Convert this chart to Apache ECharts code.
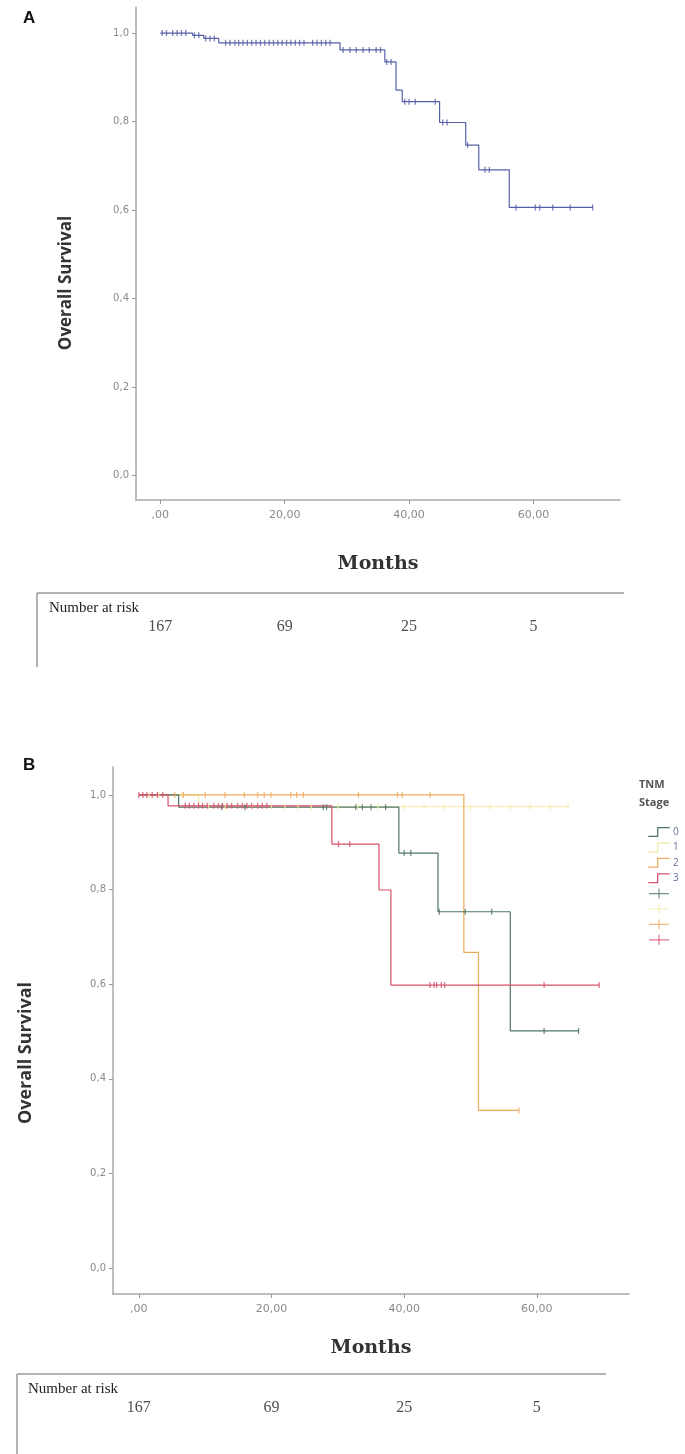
<!DOCTYPE html>
<html><head><meta charset="utf-8">
<script src="https://cdn.jsdelivr.net/npm/echarts@6/dist/echarts.min.js"></script>
<style>html,body{margin:0;padding:0;background:#fff}#c{width:685px;height:1454px}</style>
</head><body><div id="c"></div>
<script>
// ---------- data ----------
const xTicks = [0, 20, 40, 60];
const yTicks = [0, 0.2, 0.4, 0.6, 0.8, 1.0];
const riskTimes = [0, 20, 40, 60];
const riskCounts = [167, 69, 25, 5];

// Panel A: overall Kaplan-Meier steps [month, survival]
const overallSteps = [[0,1.0],[5.2,0.995],[7.0,0.988],[9.4,0.978],[28.9,0.962],[36.1,0.935],[37.9,0.871],[38.9,0.845],[44.9,0.798],[49.1,0.747],[51.2,0.691],[56.1,0.606],[69.5,0.606]];
const overallCensor = [0.3,1.0,2.0,2.7,3.4,4.1,5.5,6.2,7.3,8.0,8.7,10.5,11.2,12.0,12.6,13.3,14.0,14.7,15.4,16.1,16.8,17.5,18.2,18.9,19.6,20.3,21.0,21.7,22.4,23.1,24.5,25.2,25.9,26.6,27.3,29.4,30.5,31.5,32.6,33.6,34.7,35.4,36.4,37.1,39.3,40.0,41.0,44.2,45.4,46.1,49.4,52.2,52.9,57.2,60.3,61.0,63.1,65.9,69.5];

// Panel B: by TNM stage
const stageNames = ['0', '1', '2', '3'];
const stage0Steps = [[0,1.0],[6.0,0.974],[39.2,0.877],[45.1,0.753],[56.0,0.501],[66.3,0.501]];
const stage0Censor = [12.5,16.0,27.8,28.3,32.7,33.7,35.0,37.2,40.0,41.0,45.3,49.2,53.2,61.1,66.3];
const stage1Steps = [[0,1.0],[9.0,0.975],[64.7,0.975]];
const stage1Censor = [1.5,3.0,6.5,10.5,13.0,17.0,20.0,22.0,24.0,26.0,30.0,33.0,36.0,40.0,43.0,46.0,50.0,53.0,56.0,59.0,62.0,64.7];
const stage2Steps = [[0,1.0],[49.0,0.667],[51.2,0.333],[57.3,0.333]];
const stage2Censor = [5.4,6.7,10.0,13.0,15.9,17.9,18.9,19.9,22.9,23.8,24.8,33.1,39.0,39.7,43.9,57.3];
const stage3Steps = [[0,1.0],[4.4,0.977],[29.1,0.896],[36.2,0.799],[38.0,0.598],[69.4,0.598]];
const stage3Censor = [0,0.6,1.2,2.0,2.8,3.6,7.0,7.6,8.3,9.0,9.6,10.3,11.3,12.0,12.6,13.3,14.0,14.9,15.6,16.3,17.0,17.9,18.6,19.3,30.1,31.8,43.9,44.5,44.9,45.6,46.1,61.1,69.4];

// ---------- style ----------
const colA = '#5660a8';
const stageColors = ['#4f7566', '#f1e9a6', '#eeaa5c', '#d8506a'];
const axisCol = '#a9a9a9';
const tickFont = 'DejaVu Sans';

function levelAt(steps, t) {
  let v = steps[0][1];
  for (const p of steps) { if (p[0] <= t) v = p[1]; }
  return v;
}
function censorPts(steps, times) { return times.map(t => [t, levelAt(steps, t)]); }

const xFmt = v => v === 0 ? ',00' : v.toFixed(2).replace('.', ',');
const yFmt = v => v.toFixed(1).replace('.', ',');

function xAxisMain(gi, gap) {
  return {
    gridIndex: gi, type: 'value', min: -3.9, max: 73.9,
    axisLine: { show: true, onZero: false, lineStyle: { color: axisCol, width: 1.5 } },
    axisTick: { show: true, length: 4, customValues: xTicks, lineStyle: { color: '#999' } },
    axisLabel: { customValues: xTicks, formatter: xFmt, margin: 10, color: '#8a8a8a', fontSize: 11, fontFamily: tickFont },
    splitLine: { show: false },
    name: 'Months', nameLocation: 'middle', nameGap: gap,
    nameTextStyle: { fontFamily: 'DejaVu Serif', fontWeight: 'bold', fontSize: 19, color: '#333' }
  };
}
function yAxisMain(gi) {
  return {
    gridIndex: gi, type: 'value', min: -0.055, max: 1.059,
    axisLine: { show: true, onZero: false, lineStyle: { color: axisCol, width: 1.5 } },
    axisTick: { show: true, length: 4, customValues: yTicks, lineStyle: { color: '#999' } },
    axisLabel: { customValues: yTicks, formatter: yFmt, margin: 7, color: '#8a8a8a', fontSize: 10, fontFamily: tickFont },
    splitLine: { show: false }
  };
}
function hiddenX(gi) { return { gridIndex: gi, type: 'value', min: -3.9, max: 73.9, show: false }; }
function hiddenY(gi) { return { gridIndex: gi, type: 'value', min: 0, max: 1, show: false }; }

function kmLine(name, steps, color, xi, z) {
  return { name: name, type: 'line', step: 'end', xAxisIndex: xi, yAxisIndex: xi, data: steps,
    showSymbol: false, symbol: 'none', color: color, lineStyle: { color: color, width: 1.2 }, z: z, silent: true };
}
function censorSeries(name, pts, color, xi, z) {
  return { name: name, type: 'scatter', xAxisIndex: xi, yAxisIndex: xi, data: pts,
    symbol: 'rect', symbolSize: [1.3, 6], color: color, itemStyle: { color: color }, z: z, silent: true };
}
function riskSeries(xi) {
  return { type: 'scatter', xAxisIndex: xi, yAxisIndex: xi, data: riskTimes.map(t => [t, 0.5]),
    symbolSize: 1, itemStyle: { color: 'transparent' }, silent: true,
    label: { show: true, position: 'inside', formatter: p => String(riskCounts[p.dataIndex]),
      fontFamily: 'Liberation Serif', fontSize: 16, color: '#222' } };
}

const stepIcon = 'path://M0,9L9,9L9,0L22,0L22,1.3L10.3,1.3L10.3,10.3L0,10.3Z';
const plusIcon = 'path://M0,4.4L9.4,4.4L9.4,0L10.6,0L10.6,4.4L20,4.4L20,5.6L10.6,5.6L10.6,10L9.4,10L9.4,5.6L0,5.6Z';

const stageSteps = [stage0Steps, stage1Steps, stage2Steps, stage3Steps];
const stageCensor = [stage0Censor, stage1Censor, stage2Censor, stage3Censor];
const drawOrder = [1, 2, 0, 3];

const series = [
  kmLine('Overall', overallSteps, colA, 0, 3),
  censorSeries('Overall censored', censorPts(overallSteps, overallCensor), colA, 0, 4),
  riskSeries(1)
];
drawOrder.forEach((s, k) => {
  series.push(kmLine(stageNames[s], stageSteps[s], stageColors[s], 2, 3 + k));
  series.push(censorSeries(stageNames[s] + ' censored', censorPts(stageSteps[s], stageCensor[s]), stageColors[s], 2, 10 + k));
});
series.push(riskSeries(3));

const legendData = stageNames.map(n => ({ name: n, icon: stepIcon }))
  .concat(stageNames.map(n => ({ name: n + ' censored', icon: plusIcon })));

const tableLine = { stroke: '#9a9a9a', lineWidth: 1.5 };
const option = {
  animation: false,
  backgroundColor: '#fff',
  title: [
    { text: 'A', left: 23, top: 10, padding: 0, textStyle: { fontFamily: 'Liberation Sans', fontWeight: 'bold', fontSize: 17, color: '#111' } },
    { text: 'B', left: 23, top: 757, padding: 0, textStyle: { fontFamily: 'Liberation Sans', fontWeight: 'bold', fontSize: 17, color: '#111' } },
    { text: 'TNM\nStage', left: 639, top: 776, padding: 0, textStyle: { fontFamily: 'Open Sans', fontWeight: 'bold', fontSize: 11, lineHeight: 18, color: '#555' } }
  ],
  legend: {
    orient: 'vertical', left: 643, top: 822, itemWidth: 22, itemHeight: 10, itemGap: 5.4,
    selectedMode: false, data: legendData,
    formatter: n => (n.length > 1 ? '' : n),
    textStyle: { fontSize: 10, color: '#66709a', fontFamily: 'Open Sans', padding: [0, 0, 0, -2] }
  },
  grid: [
    { left: 136, top: 7, width: 484, height: 493, outerBoundsMode: 'none' },
    { left: 136, top: 617, width: 484, height: 20, outerBoundsMode: 'none' },
    { left: 113, top: 767, width: 516, height: 527, outerBoundsMode: 'none' },
    { left: 113, top: 1398, width: 516, height: 20, outerBoundsMode: 'none' }
  ],
  xAxis: [xAxisMain(0, 55), hiddenX(1), xAxisMain(2, 45), hiddenX(3)],
  yAxis: [yAxisMain(0), hiddenY(1), yAxisMain(2), hiddenY(3)],
  series: series,
  graphic: [
    { type: 'text', x: 66, y: 283, rotation: Math.PI / 2, silent: true,
      style: { text: 'Overall Survival', font: 'bold 17px "Open Sans"', fill: '#333', align: 'center', verticalAlign: 'middle' } },
    { type: 'text', x: 26, y: 1053, rotation: Math.PI / 2, silent: true,
      style: { text: 'Overall Survival', font: 'bold 18px "Open Sans"', fill: '#333', align: 'center', verticalAlign: 'middle' } },
    { type: 'line', shape: { x1: 37, y1: 593, x2: 624, y2: 593 }, style: tableLine, silent: true },
    { type: 'line', shape: { x1: 37, y1: 593, x2: 37, y2: 667 }, style: tableLine, silent: true },
    { type: 'text', x: 49, y: 608, silent: true,
      style: { text: 'Number at risk', font: '15px "Liberation Serif"', fill: '#222', align: 'left', verticalAlign: 'middle' } },
    { type: 'line', shape: { x1: 17, y1: 1374, x2: 606, y2: 1374 }, style: tableLine, silent: true },
    { type: 'line', shape: { x1: 17, y1: 1374, x2: 17, y2: 1454 }, style: tableLine, silent: true },
    { type: 'text', x: 28, y: 1389, silent: true,
      style: { text: 'Number at risk', font: '15px "Liberation Serif"', fill: '#222', align: 'left', verticalAlign: 'middle' } }
  ]
};
const chart = echarts.init(document.getElementById('c'), null, { renderer: 'canvas' });
chart.setOption(option);
</script>
</body></html>
